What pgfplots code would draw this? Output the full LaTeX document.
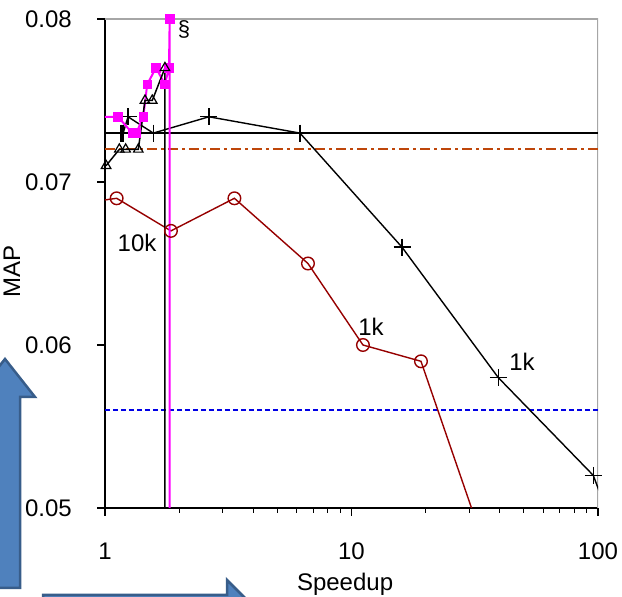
\documentclass[border=0pt]{standalone}
\usepackage{pgfplots}
\pgfplotsset{compat=1.18}
\usepackage{fontspec}
\setmainfont{Liberation Sans}
\definecolor{circred}{RGB}{150,0,0}
\definecolor{dashbrown}{RGB}{190,70,10}
\definecolor{refblue}{RGB}{0,0,230}
\definecolor{pinkline}{RGB}{255,0,255}
\definecolor{arrowfill}{RGB}{79,129,189}
\definecolor{arrowedge}{RGB}{56,93,138}
\newcommand{\bigfont}{\fontsize{24}{28}\selectfont}
\begin{document}
\begin{tikzpicture}
\useasboundingbox (0pt,0pt) rectangle (622pt,597pt);
\begin{axis}[
  at={(105pt,89pt)}, anchor=south west,
  scale only axis, width=493pt, height=489pt,
  xmode=log, xmin=1, xmax=100, ymin=0.05, ymax=0.08,
  xtick={1,10,100}, xticklabels={1,10,100},
  ytick={0.05,0.06,0.07,0.08}, yticklabels={0.05,0.06,0.07,0.08},
  scaled y ticks=false,
  axis x line*=bottom, axis y line*=left,
  axis line style={line width=1.2pt},
  tick align=outside,
  tick style={black, line width=1.1pt},
  major tick length=8pt, minor tick length=5pt,
  ticklabel style={font=\bigfont},
  /pgf/number format/assume math mode=true,
  xticklabel style={anchor=north, inner sep=0pt, yshift=-27pt},
  yticklabel style={anchor=east, inner sep=0pt, xshift=-25pt},
  xlabel={Speedup}, ylabel={MAP},
  xlabel style={font=\bigfont, at={(axis description cs:0.487,-0.168)}, anchor=base},
  ylabel style={font=\bigfont, at={(axis description cs:-0.189,0.483)}, anchor=center},
  clip=true,
]
\draw[gray!70, line width=1.2pt] (rel axis cs:0,1) -- (rel axis cs:1,1) -- (rel axis cs:1,0);

% reference levels
\addplot[black, line width=1.4pt] coordinates {(1,0.073) (100,0.073)};
\addplot[dashbrown, line width=1.8pt, dash pattern=on 10pt off 4pt on 3pt off 4pt] coordinates {(1,0.072) (100,0.072)};
\addplot[refblue, line width=1.5pt, dash pattern=on 5pt off 3pt] coordinates {(1,0.056) (100,0.056)};

% circles
\addplot[circred, line width=1.4pt, mark=o, mark size=6.3pt, mark options={line width=1.4pt}]
  coordinates {(0.9,0.0688) (1.115,0.069) (1.852,0.067) (3.35,0.069) (6.66,0.065) (11.13,0.060) (19.14,0.059) (32,0.0492)};

% plus
\addplot[black, line width=1.4pt, mark=+, mark size=8.5pt, mark options={line width=1.4pt}]
  coordinates {(1.16,0.073) (1.185,0.073) (1.24,0.074) (1.57,0.073) (2.64,0.074) (6.18,0.073)
               (16.03,0.066) (39.4,0.058) (95.7,0.052) (200,0.039)};

% magenta squares
\addplot[pinkline, line width=2pt, mark=square*, mark size=4.4pt, mark options={fill=pinkline, line width=0.5pt}]
  coordinates {(0.9,0.074) (1.13,0.074) (1.29,0.073) (1.34,0.073) (1.43,0.074) (1.484,0.076)
               (1.61,0.077) (1.75,0.076) (1.818,0.077) (1.83,0.080) (1.83,0.04)};

% triangles
\addplot[black, line width=1.5pt, mark=triangle, mark size=5.5pt, mark options={fill=white, line width=1.2pt}]
  coordinates {(1.01,0.071) (1.143,0.072) (1.213,0.072) (1.365,0.072) (1.453,0.075) (1.555,0.075)
               (1.751,0.077) (1.751,0.04)};

\node[font=\bigfont] at (axis cs:1.349,0.06626) {10k};
\node[font=\bigfont] at (axis cs:12.0,0.0611) {1k};
\node[font=\bigfont] at (axis cs:49.2,0.05896) {1k};
\node[font=\fontsize{22}{26}\selectfont] at (axis cs:2.09,0.07933) {\S};
\end{axis}

% annotation arrows
\filldraw[fill=arrowfill, draw=arrowedge, line width=2.5pt, line join=miter]
  (-10pt,9pt) -- (-10pt,200pt) -- (-25pt,200pt) -- (5pt,238pt) -- (35pt,200pt) -- (20pt,200pt) -- (20pt,9pt) -- cycle;
\filldraw[fill=arrowfill, draw=arrowedge, line width=2.5pt, line join=miter]
  (43pt,2pt) -- (227pt,2pt) -- (227pt,17pt) -- (257pt,-13pt) -- (227pt,-43pt) -- (227pt,-28pt) -- (43pt,-28pt) -- cycle;
\end{tikzpicture}
\end{document}
